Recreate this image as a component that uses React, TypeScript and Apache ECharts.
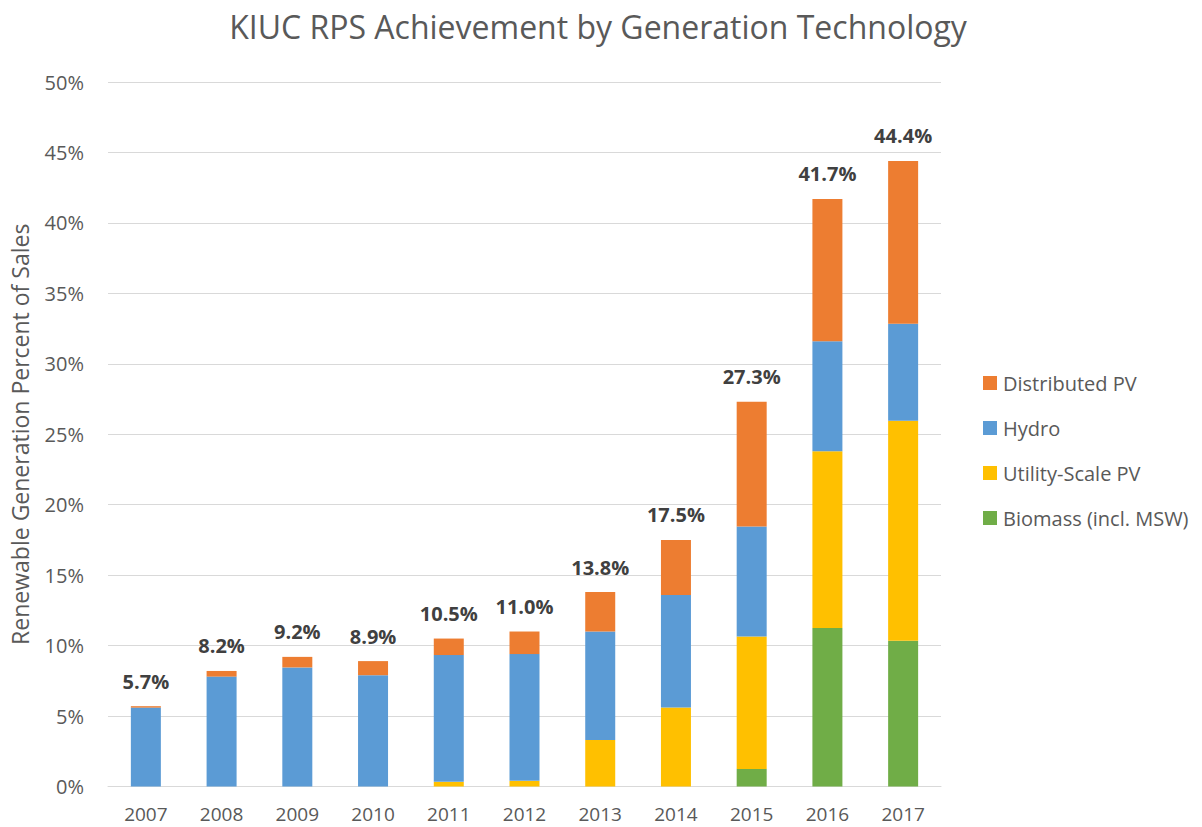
import React, { useEffect, useRef } from "react";
import * as echarts from "echarts";

const years = ["2007", "2008", "2009", "2010", "2011", "2012", "2013", "2014", "2015", "2016", "2017"];
const biomass = [0, 0, 0, 0, 0, 0, 0, 0, 1.25, 11.25, 10.35];
const utilityPV = [0, 0, 0, 0, 0.33, 0.4, 3.3, 5.6, 9.4, 12.55, 15.6];
const hydro = [5.6, 7.8, 8.45, 7.9, 9.0, 9.0, 7.7, 8.0, 7.8, 7.8, 6.9];
const distributedPV = [0.1, 0.4, 0.75, 1.0, 1.17, 1.6, 2.8, 3.9, 8.85, 10.1, 11.55];
const yTicks = { min: 0, max: 50, interval: 5 };

const FONT = "'Open Sans', sans-serif";
const TEXT = "#595959";

export default function App() {
  const ref = useRef<HTMLDivElement>(null);
  useEffect(() => {
    if (!ref.current) return;
    const chart = echarts.init(ref.current, undefined, { renderer: "svg" });
    const totals = years.map((_, i) => biomass[i] + utilityPV[i] + hydro[i] + distributedPV[i]);
    const base = { type: "bar", stack: "total", barWidth: 30 };
    chart.setOption({
      animation: false,
      textStyle: { fontFamily: FONT },
      title: {
        text: "KIUC RPS Achievement by Generation Technology",
        left: 598,
        textAlign: "center",
        top: 10,
        padding: 0,
        textStyle: { fontFamily: FONT, fontSize: 32, fontWeight: "normal", color: TEXT },
      },
      grid: { left: 107, right: 261, top: 82, bottom: 40.5, containLabel: false },
      legend: {
        orient: "vertical",
        left: 983,
        top: 373,
        padding: 0,
        icon: "rect",
        itemWidth: 14,
        itemHeight: 14,
        itemGap: 25,
        data: ["Distributed PV", "Hydro", "Utility-Scale PV", "Biomass (incl. MSW)"],
        textStyle: { fontFamily: FONT, fontSize: 20, lineHeight: 20, color: TEXT, padding: [0, 0, 0, 1] },
      },
      xAxis: {
        type: "category",
        data: years,
        axisTick: { show: false },
        axisLine: { lineStyle: { color: "#D9D9D9", width: 1 } },
        axisLabel: { color: TEXT, fontSize: 19, fontFamily: FONT, margin: 18 },
      },
      yAxis: {
        type: "value",
        min: yTicks.min,
        max: yTicks.max,
        interval: yTicks.interval,
        name: "Renewable Generation Percent of Sales",
        nameLocation: "middle",
        nameGap: 77,
        nameTextStyle: { color: TEXT, fontSize: 23, fontFamily: FONT },
        axisLine: { show: false },
        axisTick: { show: false },
        splitLine: { lineStyle: { color: "#D9D9D9", width: 1 } },
        axisLabel: { color: TEXT, fontSize: 20, fontFamily: FONT, margin: 24, formatter: "{value}%" },
      },
      series: [
        { ...base, name: "Biomass (incl. MSW)", data: biomass, itemStyle: { color: "#70AD47" } },
        { ...base, name: "Utility-Scale PV", data: utilityPV, itemStyle: { color: "#FFC000" } },
        { ...base, name: "Hydro", data: hydro, itemStyle: { color: "#5B9BD5" } },
        {
          ...base,
          name: "Distributed PV",
          data: distributedPV,
          itemStyle: { color: "#ED7D31" },
          label: {
            show: true,
            position: "top",
            distance: 15,
            fontFamily: FONT,
            fontSize: 20,
            fontWeight: "bold",
            color: "#404040",
            formatter: (p: any) => totals[p.dataIndex].toFixed(1) + "%",
          },
        },
      ],
    });
    return () => chart.dispose();
  }, []);
  return (
    <div
      ref={ref}
      style={{ position: "absolute", left: 0, top: 0, width: 1202, height: 827 }}
    />
  );
}
